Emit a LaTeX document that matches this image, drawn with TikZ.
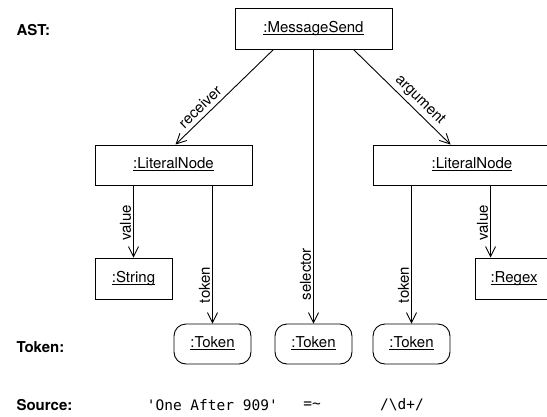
\documentclass[tikz,border=0pt]{standalone}
\usepackage{fontspec}
\setmainfont{TeX Gyre Heros}
\setmonofont{DejaVu Sans Mono}
\usepackage{tikz}
\usetikzlibrary{arrows.meta,positioning}
\newcommand{\objname}[1]{\setbox0\hbox{#1}\rlap{\rule[-2.2pt]{\wd0}{0.6pt}}\box0}

\begin{document}
\begin{tikzpicture}[x=1pt,y=-1pt]
\tikzstyle{every node}=[font=\fontsize{15}{18}\selectfont]
\tikzstyle{obj}=[draw,line width=0.9pt,minimum height=40pt,text height=10.5pt,text depth=3pt]
\tikzstyle{tok}=[obj,rounded corners=12pt,minimum width=77pt]
\tikzstyle{link}=[line width=0.9pt,-{Straight Barb[length=10pt,width=10pt]}]
\tikzstyle{vlabel}=[rotate=90,anchor=south,inner sep=2pt]
\tikzstyle{head}=[anchor=west,font=\fontsize{15}{18}\selectfont\bfseries]
\tikzstyle{src}=[font=\fontsize{14.5}{18}\selectfont\ttfamily]
\useasboundingbox (0,0) rectangle (547,416);
\clip (0,0) rectangle (547,416);
% objects
\node[obj,minimum width=157pt,minimum height=41pt] (send) at (313.5,28.5) {\objname{:MessageSend}};
\node[obj,minimum width=157pt] (litL) at (173.5,165) {\objname{:LiteralNode}};
\node[obj,minimum width=198pt] (litR) at (472,165) {\objname{:LiteralNode}};
\node[obj,minimum width=77pt,minimum height=41pt] (str) at (133.5,278.5) {\objname{:String}};
\node[obj,minimum width=78pt,minimum height=41pt] (regex) at (514,278.5) {\objname{:Regex}};
\node[tok] (tokL) at (212.5,344) {\objname{:Token}};
\node[tok] (tokM) at (313.5,344) {\objname{:Token}};
\node[tok] (tokR) at (411.5,344) {\objname{:Token}};
% links
\draw[link] ([xshift=39pt]send.south west) -- node[pos=.68,sloped,above=4pt,inner sep=0pt] {receiver} ([xshift=2pt]litL.north);
\draw[link] ([xshift=-39pt]send.south east) -- node[pos=.61,sloped,above=3pt,inner sep=0pt] {argument} ([xshift=78pt]litR.north west);
\draw[link] (send.south) -- node[pos=.82,vlabel] {selector} (tokM.north);
\draw[link] (str.north |- litL.south) -- node[pos=.52,vlabel] {value} (str.north);
\draw[link] (tokL.north |- litL.south) -- node[pos=.72,vlabel] {token} (tokL.north);
\draw[link] (tokR.north |- litR.south) -- node[pos=.72,vlabel] {token} (tokR.north);
\draw[link] ([xshift=118pt]litR.south west) -- node[pos=.52,vlabel] {value} ([xshift=16pt]regex.north west);
% rows
\node[head] (astrow) at (13,30) {AST:};
\node[head] (tokrow) at (13,347) {Token:};
\node[head] (srcrow) at (13,405) {Source:};
\node[src] (srcA) at (212.3,405) {'One After 909'};
\node[src] (srcB) at (312,405) {=\textasciitilde};
\node[src] (srcC) at (402,405) {/\textbackslash d+/};
\end{tikzpicture}
\end{document}
